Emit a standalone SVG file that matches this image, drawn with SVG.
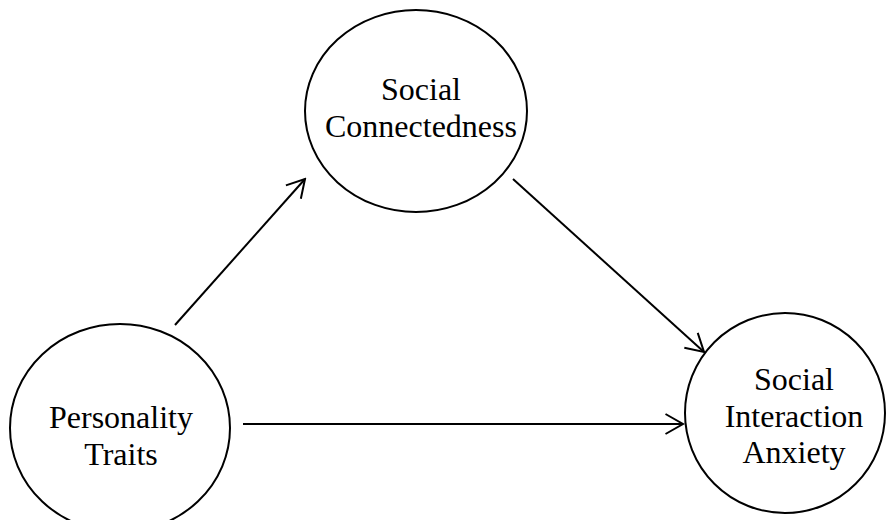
<svg xmlns="http://www.w3.org/2000/svg" width="886" height="520" viewBox="0 0 886 520">
  <style>
    .node { fill: #ffffff; stroke: #000000; stroke-width: 2; }
    .label { font-family: "Liberation Serif", "Times New Roman", serif; font-size: 32px; fill: #000000; text-anchor: middle; }
    .edge { fill: none; stroke: #000000; stroke-width: 2; marker-end: url(#open-arrow); }
  </style>
  <defs>
    <!-- open V arrowhead shared by all paths -->
    <marker id="open-arrow" viewBox="0 0 20 22" refX="18.5" refY="11" markerWidth="20" markerHeight="22" markerUnits="userSpaceOnUse" orient="auto">
      <path d="M1,1 L18.5,11 L1,21" fill="none" stroke="#000000" stroke-width="2"/>
    </marker>
  </defs>
  <rect width="886" height="520" fill="#ffffff"/>

  <g id="connectors">
    <line class="edge" x1="175" y1="325" x2="305" y2="179"/>
    <line class="edge" x1="513" y1="179" x2="704" y2="352"/>
    <line class="edge" x1="243" y1="424" x2="683" y2="424"/>
  </g>

  <g id="social-connectedness">
    <ellipse class="node" cx="416" cy="111" rx="111" ry="101"/>
    <text class="label" x="421" y="100">Social</text>
    <text class="label" x="421" y="137">Connectedness</text>
  </g>

  <g id="personality-traits">
    <ellipse class="node" cx="120" cy="428" rx="110" ry="104"/>
    <text class="label" x="121" y="428">Personality</text>
    <text class="label" x="121" y="465">Traits</text>
  </g>

  <g id="social-interaction-anxiety">
    <ellipse class="node" cx="785" cy="413" rx="100" ry="100"/>
    <text class="label" x="794" y="390">Social</text>
    <text class="label" x="794" y="427">Interaction</text>
    <text class="label" x="794" y="463">Anxiety</text>
  </g>
</svg>
